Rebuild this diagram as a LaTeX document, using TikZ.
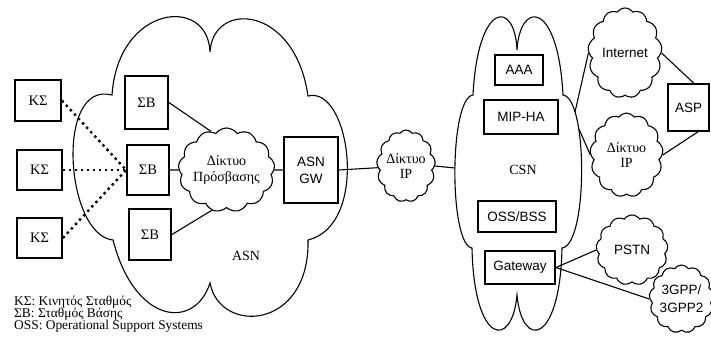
\documentclass[tikz,border=0pt]{standalone}
\usepackage{fontspec}
\setmainfont{Liberation Serif}
\setsansfont{Liberation Sans}
\usetikzlibrary{shapes.symbols}

\begin{document}
\begin{tikzpicture}[x=1pt,y=-1pt,
  box/.style={draw, line width=1.8pt, inner sep=0pt, align=center},
  gbox/.style={box, font=\fontsize{14.5}{14.5}\selectfont},
  sbox/.style={box, font=\sffamily\fontsize{13.5}{17}\selectfont},
  netcloud/.style={cloud, draw, line width=1.1pt, cloud puffs=13, cloud puff arc=110,
    cloud ignores aspect, inner sep=0pt, align=center},
  gcloud/.style={netcloud, font=\fontsize{14}{15.5}\selectfont},
  scloud/.style={netcloud, font=\sffamily\fontsize{13.5}{18}\selectfont},
  link/.style={line width=1.1pt},
  radio/.style={line width=2.4pt, dash pattern=on 2.4pt off 3.6pt},
  bigcloud/.style={draw, line width=1.1pt},
  lbl/.style={font=\fontsize{14}{14}\selectfont},
  legend/.style={font=\fontsize{13.4}{12}\selectfont, align=left, anchor=west, inner sep=0pt}
]
\useasboundingbox (0,0) rectangle (711,341);

% ASN cloud outline
\draw[bigcloud] (112,95) .. controls (118,5) and (208,-5) .. (210,52)
  .. controls (213,0) and (295,5) .. (308,96)
  .. controls (350,85) and (370,225) .. (308,240)
  .. controls (310,330) and (220,335) .. (210,283)
  .. controls (195,330) and (135,325) .. (113,240)
  .. controls (65,235) and (55,80) .. cycle;
\node[lbl] (asnlbl) at (246,256) {ASN};

% CSN cloud outline
\draw[bigcloud] (473,95) .. controls (478,0) and (515,0) .. (517,50)
  .. controls (520,0) and (558,0) .. (563,95)
  .. controls (588,98) and (588,245) .. (562,248)
  .. controls (560,345) and (522,350) .. (517,295)
  .. controls (512,350) and (474,345) .. (472,248)
  .. controls (449,245) and (449,98) .. cycle;
\node[lbl] (csnlbl) at (523,170) {CSN};
\coordinate (csnL) at (455,168);
\coordinate (csnA) at (575,112);
\coordinate (csnB) at (579,129);

% mobile stations
\node[gbox, minimum width=46pt, minimum height=41pt] (ks1) at (38,100.5) {ΚΣ};
\node[gbox, minimum width=45pt, minimum height=40pt] (ks2) at (39.5,170) {ΚΣ};
\node[gbox, minimum width=45pt, minimum height=40pt] (ks3) at (39.5,238) {ΚΣ};

% base stations
\node[gbox, minimum width=43pt, minimum height=53pt] (sb1) at (146.5,102.5) {ΣΒ};
\node[gbox, minimum width=42pt, minimum height=50pt] (sb2) at (148,170) {ΣΒ};
\node[gbox, minimum width=42pt, minimum height=51pt] (sb3) at (150,234.5) {ΣΒ};

% access network and gateway
\node[gcloud, minimum width=83pt, minimum height=84pt] (acc) at (226.5,170) {Δίκτυο\\Πρόσβασης};
\node[sbox, minimum width=54pt, minimum height=66pt] (asngw) at (311,170) {ASN\\GW};
\node[gcloud, minimum width=58pt, minimum height=72pt] (ipm) at (406,166) {Δίκτυο\\IP};

% CSN elements
\node[sbox, minimum width=48pt, minimum height=30pt] (aaa) at (519,70) {AAA};
\node[sbox, minimum width=74pt, minimum height=34pt] (mip) at (521,117) {MIP-HA};
\node[sbox, minimum width=78pt, minimum height=31pt] (oss) at (517,216.5) {OSS/BSS};
\node[sbox, minimum width=70pt, minimum height=33pt] (gw) at (520,267.5) {Gateway};

% external networks
\node[scloud, minimum width=74pt, minimum height=90pt] (inet) at (625,53) {Internet};
\node[gcloud, minimum width=73pt, minimum height=84pt] (ipr) at (626.5,155) {Δίκτυο\\IP};
\node[sbox, minimum width=41pt, minimum height=47pt] (asp) at (688.5,107.5) {ASP};
\node[scloud, minimum width=72pt, minimum height=70pt] (pstn) at (632,250) {PSTN};
\node[scloud, minimum width=57pt, minimum height=68pt] (g3) at (681.5,299) {3GPP/\\3GPP2};

% radio links
\draw[radio] (ks1.east) -- (sb2.west);
\draw[radio] (ks2.east) -- (sb2.west);
\draw[radio] (ks3.east) -- (sb2.west);

% wired links
\draw[link] (sb1.east) -- (acc.112);
\draw[link] (sb2.east) -- (acc.west);
\draw[link] (sb3.east) -- (acc.250);
\draw[link] (acc.east) -- (asngw.west);
\draw[link] (asngw.east) -- (ipm);
\draw[link] (ipm.east) -- (csnL);
\draw[link] (csnA) -- (inet.west);
\draw[link] (csnB) -- (ipr.west);
\draw[link] (inet.east) -- (asp.78);
\draw[link] (ipr.east) -- (asp.-69);
\draw[link] (gw.east) -- (pstn.west);
\draw[link] (gw.east) -- (g3.west);

% legend
\node[legend] (leg1) at (14,302) {ΚΣ: Κινητός Σταθμός};
\node[legend] (leg2) at (14,314) {ΣΒ: Σταθμός Βάσης};
\node[legend] (leg3) at (14,326) {OSS: Operational Support Systems};
\end{tikzpicture}
\end{document}
